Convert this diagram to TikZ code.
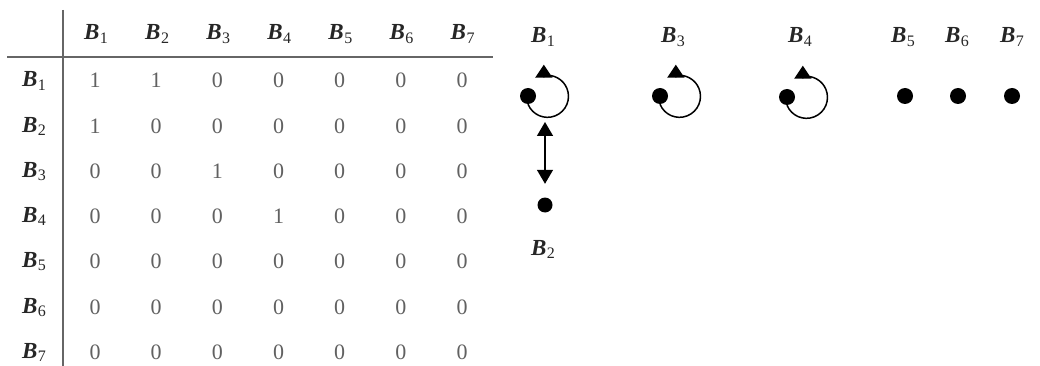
\documentclass[tikz,border=0pt]{standalone}
\usepackage{fontspec}
\setmainfont{Liberation Serif}
\usetikzlibrary{arrows.meta}
\newcommand{\Bv}[1]{{\fontsize{23}{24}\selectfont\bfseries\itshape B}\kern0.5pt\raisebox{-0.3ex}{\fontsize{16}{16}\selectfont #1}}
\begin{document}
\begin{tikzpicture}[x=1pt,y=-1pt, font=\fontsize{22}{24}\selectfont,
  lab/.style={anchor=base, inner sep=0pt, text=black!85},
  num/.style={anchor=base, inner sep=0pt, text=black!62},
  vtx/.style={circle, fill=black, minimum size=16pt, inner sep=0pt},
  rulel/.style={black!60, line width=1.4pt},
  loopline/.style={line width=1.5pt},
  looptip/.style={-{Triangle[length=13pt,width=17pt]}},
  bitip/.style={{Triangle[length=14pt,width=16pt]}-{Triangle[length=14pt,width=16pt]}}]
\useasboundingbox[fill=white] (0,0) rectangle (1040,366);
% table rules
\draw[rulel] (63,10) -- (63,366);
\draw[rulel] (7,57) -- (493,57);
% headers
\foreach \k in {1,...,7} {
  \node[lab] (h\k) at ({96+61.1*(\k-1)},40) {\Bv{\k}};
  \node[lab] (r\k) at (34,{87+45.2*(\k-1)}) {\Bv{\k}};
}
% entries
\foreach \row [count=\i] in {{1,1,0,0,0,0,0},{1,0,0,0,0,0,0},{0,0,1,0,0,0,0},{0,0,0,1,0,0,0},{0,0,0,0,0,0,0},{0,0,0,0,0,0,0},{0,0,0,0,0,0,0}} {
  \foreach \v [count=\j] in \row {
    \node[num] (m\i-\j) at ({95+61.17*(\j-1)},{88+45.2*(\i-1)}) {\v};
  }
}
% graph
\node[vtx] (v1) at (528,96) {};
\node[vtx, minimum size=15pt] (v2) at (545,205) {};
\node[vtx] (v3) at (660,96) {};
\node[vtx] (v4) at (787,97) {};
\node[vtx] (v5) at (905,96) {};
\node[vtx] (v6) at (958,96) {};
\node[vtx] (v7) at (1012,96) {};
\node[lab] (l1) at (543,43) {\Bv{1}};
\node[lab] (l2) at (543,255) {\Bv{2}};
\node[lab] (l3) at (673,43) {\Bv{3}};
\node[lab] (l4) at (800,43) {\Bv{4}};
\node[lab] (l5) at (903,43) {\Bv{5}};
\node[lab] (l6) at (957,43) {\Bv{6}};
\node[lab] (l7) at (1012,43) {\Bv{7}};
\foreach \n in {v1,v3,v4} {
  \draw[loopline, looptip] (\n.south) arc[start angle=158, end angle=-100, radius=21] -- ++(0,-11);
}
\coordinate (e12) at (545,122);
\draw[loopline, bitip] (e12) -- ([yshift=13.5pt]v2.north);
\end{tikzpicture}
\end{document}
